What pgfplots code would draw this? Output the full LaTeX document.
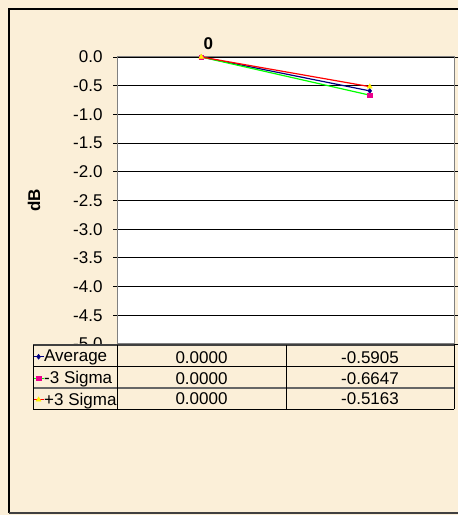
\documentclass[border=0pt]{standalone}
\usepackage{pgfplots}
\pgfplotsset{compat=1.18}
\usepackage{pgfplotstable}
\usepackage{fontspec}
\setmainfont{Liberation Sans}

\definecolor{parch}{RGB}{251,239,216}
\definecolor{navyline}{RGB}{0,0,128}
\definecolor{frame}{RGB}{128,128,128}

% category, Average, -3 Sigma, +3 Sigma (dB)
\pgfplotstableread{
x avg lo hi
0 0.0000 0.0000 0.0000
1 -0.5905 -0.6647 -0.5163
}\dBdata

\newcommand{\cellval}[2]{%
  \pgfplotstablegetelem{#1}{#2}\of\dBdata
  \pgfmathprintnumber[fixed,fixed zerofill,precision=4,assume math mode=true]{\pgfplotsretval}}
\newcommand{\tfont}{\fontsize{17bp}{20bp}\selectfont}

\pgfplotsset{
  frame box/.style={at={(117bp,171bp)}, anchor=south west,
    scale only axis, width=337bp, height=287bp,
    xmin=-0.5, xmax=1.5, ymin=-5, ymax=0, clip=false},
  avg style/.style={navyline, line width=1.2bp, mark=diamond*, mark size=2.5bp, mark options={fill=navyline, line width=0.5bp}},
  lo style/.style={green, line width=1.2bp, mark=square*, mark size=2.2bp, mark options={draw=magenta, fill=magenta, line width=0.5bp}},
  hi style/.style={red, line width=1.2bp, mark=triangle*, mark size=2.8bp, mark options={draw=yellow, fill=yellow, line width=0.5bp}},
}

\begin{document}
\begin{tikzpicture}[x=1bp,y=1bp]
\fill[parch] (0,0) rectangle (458,515);
\draw[black, line width=1.5bp] (9,2) -- (9,506) -- (458,506);
\draw[black!75, line width=1.5bp] (9,2) -- (458,2);

\begin{axis}[
  frame box,
  axis background/.style={fill=white},
  axis line style={draw=frame, line width=1bp},
  ytick={-5,-4.5,-4,-3.5,-3,-2.5,-2,-1.5,-1,-0.5,0},
  yticklabel style={font=\tfont, xshift=-7bp, /pgf/number format/.cd, fixed, fixed zerofill, precision=1, assume math mode=true},
  ytick style={black, line width=0.8bp},
  tick align=center, major tick length=8bp,
  ymajorgrids, grid style={black, line width=0.8bp},
  xtick={0}, xticklabels={\textbf{0}}, xticklabel pos=upper,
  xticklabel style={font=\tfont, xshift=7bp},
  xtick style={draw=none},
  ylabel={\textbf{dB}},
  ylabel style={at={(axis description cs:-0.246,0.5)}, anchor=center, font=\tfont},
]
\addplot[avg style] table[x=x, y=avg] {\dBdata};
\addplot[lo style] table[x=x, y=lo] {\dBdata};
\addplot[hi style] table[x=x, y=hi] {\dBdata};
\end{axis}

% data table under the plot (its background hides the lower half of -5.0)
\fill[parch] (33,169.5) rectangle (454,105.5);
\draw[black!75, line width=2bp] (33,170) -- (454,170);
\draw[black, line width=0.9bp] (33,148.5) -- (454,148.5);
\draw[black!60, line width=1.5bp] (33,127) -- (454,127);
\draw[black, line width=0.9bp] (33,105.5) -- (454,105.5);
\foreach \xx in {33,117,286,454}
  \draw[black, line width=0.9bp] (\xx,105.5) -- (\xx,170);
\foreach \r/\yy in {0/157.5,1/136.5,2/116}{%
  \pgfmathsetmacro{\colname}{{"avg","lo","hi"}[\r]}
  \node[font=\tfont] at (201.5,\yy) {\cellval{0}{\colname}};
  \node[font=\tfont] at (370,\yy) {\cellval{1}{\colname}};
}

% legend keys in the table's first column
\begin{axis}[
  frame box, hide axis,
  legend style={at={(axis description cs:-0.2493,0)}, anchor=north west, yshift=-2bp,
    draw=none, fill=none, inner sep=0pt, outer sep=0pt, row sep=0pt,
    column sep=0pt, font=\tfont,
    nodes={inner sep=0pt, minimum height=21.5bp}},
  legend cell align=left,
  legend image code/.code={\draw[mark repeat=2,mark phase=2,#1] plot coordinates {(0bp,0bp) (5bp,0bp) (10bp,0bp)};},
]
\addlegendimage{avg style}
\addlegendentry{Average}
\addlegendimage{lo style}
\addlegendentry{-3 Sigma}
\addlegendimage{hi style}
\addlegendentry{+3 Sigma}
\end{axis}
\end{tikzpicture}
\end{document}
